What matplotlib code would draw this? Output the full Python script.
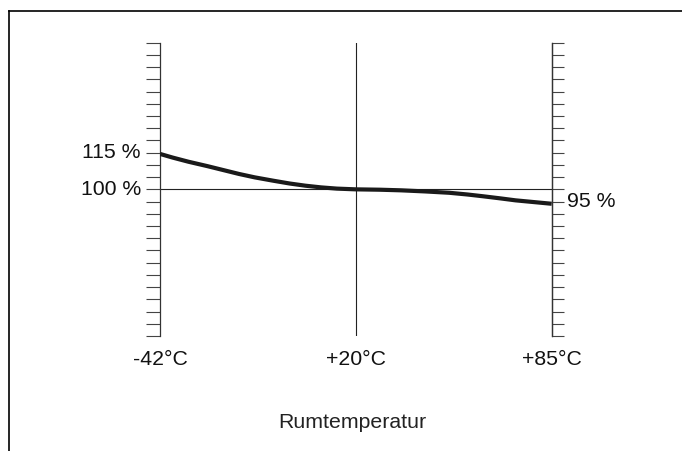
import matplotlib

matplotlib.use("Agg")

import matplotlib.pyplot as plt
import matplotlib.transforms as mtransforms
import numpy as np
from matplotlib.lines import Line2D

plt.rcParams["font.family"] = ["Liberation Sans", "DejaVu Sans"]

# temperature (deg C) vs. relative value (%)
temps = [-42, -38, -33, -27, -22, -17, -12, -6, -1, 4, 9, 14, 20,
         28, 35, 43, 51, 57, 62, 68, 73, 79, 85]
values = [114.5, 113.0, 111.3, 109.5, 107.9, 106.3, 104.9, 103.5, 102.4, 101.5, 100.8, 100.3, 100.0,
          99.85, 99.6, 99.15, 98.6, 97.9, 97.2, 96.3, 95.5, 94.8, 94.1]

temp_ticks = [-42, 20, 85]
temp_labels = ["-42°C", "+20°C", "+85°C"]
left_marks = [115, 100]
left_labels = ["115 %", "100 %"]
right_marks = [95]
right_labels = ["95 %"]
y_min, y_max, y_step = 40, 160, 5
x_title = "Rumtemperatur"

W, H = 682, 451
fig = plt.figure(figsize=(W / 100, H / 100), dpi=100)

# axes box in pixels: x 160..551.7, y 42.7..336
ax = fig.add_axes([160 / W, 1 - 336 / H, (551.7 - 160) / W, (336 - 42.7) / H])


# the three temperature marks are equally spaced on the drawing
def fwd(t):
    return np.interp(t, temp_ticks, [0, 1, 2])


def inv(p):
    return np.interp(p, [0, 1, 2], temp_ticks)


ax.set_xscale("function", functions=(fwd, inv))
ax.set_xlim(temp_ticks[0], temp_ticks[-1])
ax.set_ylim(y_min, y_max)

for side in ["top", "bottom"]:
    ax.spines[side].set_visible(False)
for side in ["left", "right"]:
    ax.spines[side].set_color("#333333")
    ax.spines[side].set_linewidth(0.9)

ax.set_xticks([])
ticks = np.arange(y_min, y_max + 1, y_step)
ax.set_yticks(ticks)
ax.set_yticklabels([])
ax.tick_params(axis="y", direction="out", length=10.1, width=0.8, color="#444444")

ax2 = ax.twinx()
ax2.set_ylim(y_min, y_max)
ax2.set_yticks(ticks)
ax2.set_yticklabels([])
ax2.tick_params(axis="y", direction="out", length=8.8, width=0.8, color="#444444")
for side in ["top", "bottom", "left"]:
    ax2.spines[side].set_visible(False)
ax2.spines["right"].set_color("#333333")
ax2.spines["right"].set_linewidth(0.9)

ax.axvline(temp_ticks[1], color="#222222", lw=0.8)
ax.axhline(100, color="#222222", lw=0.8)

ax.plot(temps, values, color="#1a1a1a", lw=3.0, solid_capstyle="butt",
        solid_joinstyle="round", zorder=5)

txt = dict(fontsize=15.3, color="#111111")
yt = mtransforms.blended_transform_factory(ax.transAxes, ax.transData)
for v, s in zip(left_marks, left_labels):
    ax.text(-0.049, v, s, transform=yt, ha="right", va="center", **txt)
for v, s in zip(right_marks, right_labels):
    ax.text(1.04, v, s, transform=yt, ha="left", va="center", **txt)

xt = mtransforms.blended_transform_factory(ax.transData, fig.transFigure)
for t, s in zip(temp_ticks, temp_labels):
    ax.text(t, 1 - 365 / H, s, transform=xt, ha="center", va="baseline", **txt)

fig.text(352 / W, 1 - 428.3 / H, x_title, ha="center", va="baseline", fontsize=15.3, color="#222222")

# frame lines at top and left
fig.add_artist(Line2D([9 / W, 1], [1 - 11 / H, 1 - 11 / H], color="black", lw=1.2))
fig.add_artist(Line2D([9 / W, 9 / W], [0, 1 - 11 / H], color="black", lw=1.2))

fig.savefig("out.png", dpi=100)
